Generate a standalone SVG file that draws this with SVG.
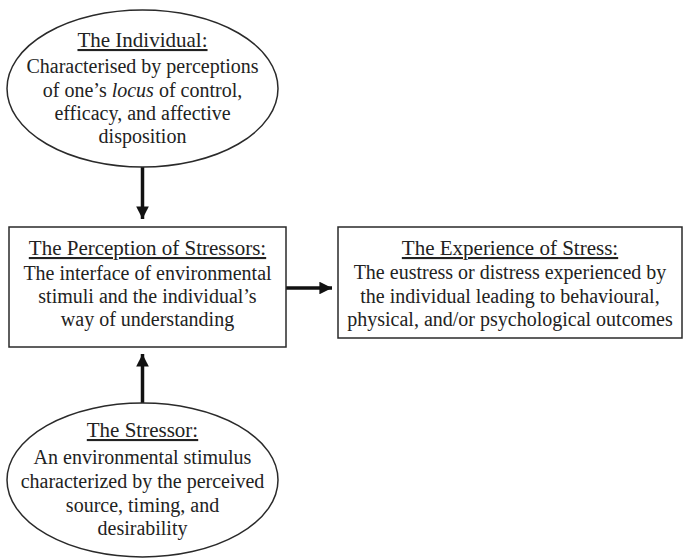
<svg xmlns="http://www.w3.org/2000/svg" width="684" height="559" viewBox="0 0 684 559">
  <style>
    .shape { fill: #ffffff; stroke: #2a2a2a; stroke-width: 1.5; }
    text { font-family: "Liberation Serif", "Times New Roman", serif; fill: #222; text-anchor: middle; }
    .title { font-size: 21px; text-decoration: underline; }
    .txt { font-size: 20px; }
    .link { stroke: #111; stroke-width: 3.5; fill: none; }
  </style>
  <defs>
    <marker id="head" viewBox="0 0 10 10" refX="10" refY="5" markerWidth="4.2" markerHeight="3.6" markerUnits="strokeWidth" orient="auto">
      <path d="M0,0 L10,5 L0,10 Z" fill="#111"/>
    </marker>
  </defs>
  <rect width="684" height="559" fill="#ffffff"/>

  <g id="connectors">
    <line class="link" x1="142.5" y1="167" x2="142.5" y2="219" marker-end="url(#head)"/>
    <line class="link" x1="286" y1="288" x2="332" y2="288" marker-end="url(#head)"/>
    <line class="link" x1="142.5" y1="403" x2="142.5" y2="354" marker-end="url(#head)"/>
  </g>

  <g id="individual">
    <ellipse class="shape" cx="142.5" cy="88.5" rx="135.5" ry="78.5"/>
    <text class="title" x="142.5" y="47">The Individual:</text>
    <text class="txt" x="142.5" y="73">Characterised by perceptions</text>
    <text class="txt" x="142.5" y="97">of one’s <tspan font-style="italic">locus</tspan> of control,</text>
    <text class="txt" x="142.5" y="120">efficacy, and affective</text>
    <text class="txt" x="142.5" y="143">disposition</text>
  </g>

  <g id="perception">
    <rect class="shape" x="9" y="227" width="277" height="120"/>
    <text class="title" x="147.5" y="255">The Perception of Stressors:</text>
    <text class="txt" x="147.5" y="280">The interface of environmental</text>
    <text class="txt" x="147.5" y="303">stimuli and the individual’s</text>
    <text class="txt" x="147.5" y="326">way of understanding</text>
  </g>

  <g id="experience">
    <rect class="shape" x="338" y="227" width="344" height="111"/>
    <text class="title" x="510" y="255">The Experience of Stress:</text>
    <text class="txt" x="510" y="279">The eustress or distress experienced by</text>
    <text class="txt" x="510" y="302.5">the individual leading to behavioural,</text>
    <text class="txt" x="510" y="326">physical, and/or psychological outcomes</text>
  </g>

  <g id="stressor">
    <ellipse class="shape" cx="142.5" cy="480" rx="135.5" ry="77"/>
    <text class="title" x="142.5" y="437">The Stressor:</text>
    <text class="txt" x="142.5" y="464">An environmental stimulus</text>
    <text class="txt" x="142.5" y="488">characterized by the perceived</text>
    <text class="txt" x="142.5" y="512">source, timing, and</text>
    <text class="txt" x="142.5" y="535">desirability</text>
  </g>
</svg>
